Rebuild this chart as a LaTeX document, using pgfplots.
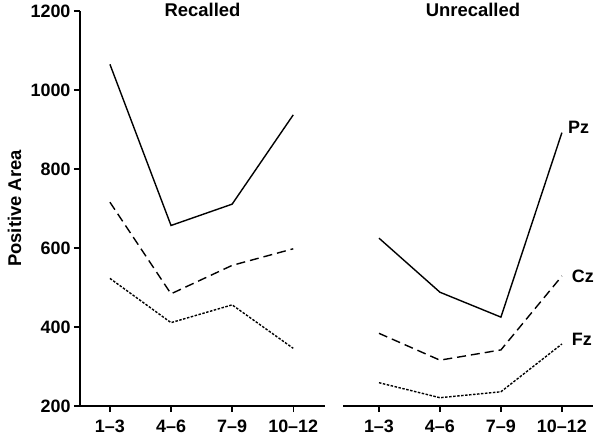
\documentclass[border=0pt]{standalone}
\usepackage{fontspec}
\setmainfont{Liberation Sans}
\usepackage{pgfplots}
\pgfplotsset{compat=1.18}
\begin{document}
\begin{tikzpicture}
\path[use as bounding box] (0bp,0bp) rectangle (600bp,438bp);
\pgfplotsset{
  panel/.style={
    scale only axis, height=395bp, ymin=200, ymax=1200,
    xtick={0,1,2,3}, xticklabels={1--3,4--6,7--9,10--12},
    ytick={200,400,600,800,1000,1200},
    axis x line*=bottom,
    axis line style={-, line width=1.3bp},
    tick align=outside, major tick length=6bp,
    every tick/.style={black, line width=1.3bp},
    tick label style={font=\fontsize{18}{20}\selectfont\bfseries},
    /pgf/number format/assume math mode=true,
    /pgf/number format/1000 sep={},
    xticklabel style={yshift=-4bp},
    title style={at={(0.5,1)}, anchor=center, yshift=-5bp, font=\fontsize{18.5}{21}\selectfont\bfseries},
    clip=false,
  },
  pz/.style={black, line width=1.4bp, no markers},
  cz/.style={black, line width=1.4bp, no markers, dash pattern=on 9bp off 5bp},
  fz/.style={black, line width=1.4bp, no markers, dash pattern=on 2.5bp off 1.5bp},
}
\begin{axis}[panel, at={(80bp,32bp)}, anchor=south west, width=245bp,
  xmin=-0.49, xmax=3.52, axis y line*=left,
  title={Recalled},
  ylabel={Positive Area},
  ylabel style={at={(axis description cs:-0.267,0.5)}, anchor=center, font=\fontsize{18.5}{21}\selectfont\bfseries}]
\addplot[pz] coordinates {(0,1065) (1,657) (2,711) (3,937)};
\addplot[cz] coordinates {(0,716) (1,484) (2,556) (3,598)};
\addplot[fz] coordinates {(0,523) (1,411) (2,456) (3,346)};
\end{axis}
\begin{axis}[panel, at={(343bp,32bp)}, anchor=south west, width=250bp,
  xmin=-0.59, xmax=3.51, hide y axis,
  title={Unrecalled}, title style={xshift=5bp}]
\addplot[pz] coordinates {(0,625) (1,488) (2,425) (3,892)};
\addplot[cz] coordinates {(0,384) (1,316) (2,342) (3,529)};
\addplot[fz] coordinates {(0,259) (1,221) (2,236) (3,357)};
\node[anchor=west, font=\fontsize{18}{20}\selectfont\bfseries, inner sep=0pt] at (axis cs:3.10,906) {Pz};
\node[anchor=west, font=\fontsize{18}{20}\selectfont\bfseries, inner sep=0pt] at (axis cs:3.16,529) {Cz};
\node[anchor=west, font=\fontsize{18}{20}\selectfont\bfseries, inner sep=0pt] at (axis cs:3.16,370) {Fz};
\end{axis}
\end{tikzpicture}
\end{document}
